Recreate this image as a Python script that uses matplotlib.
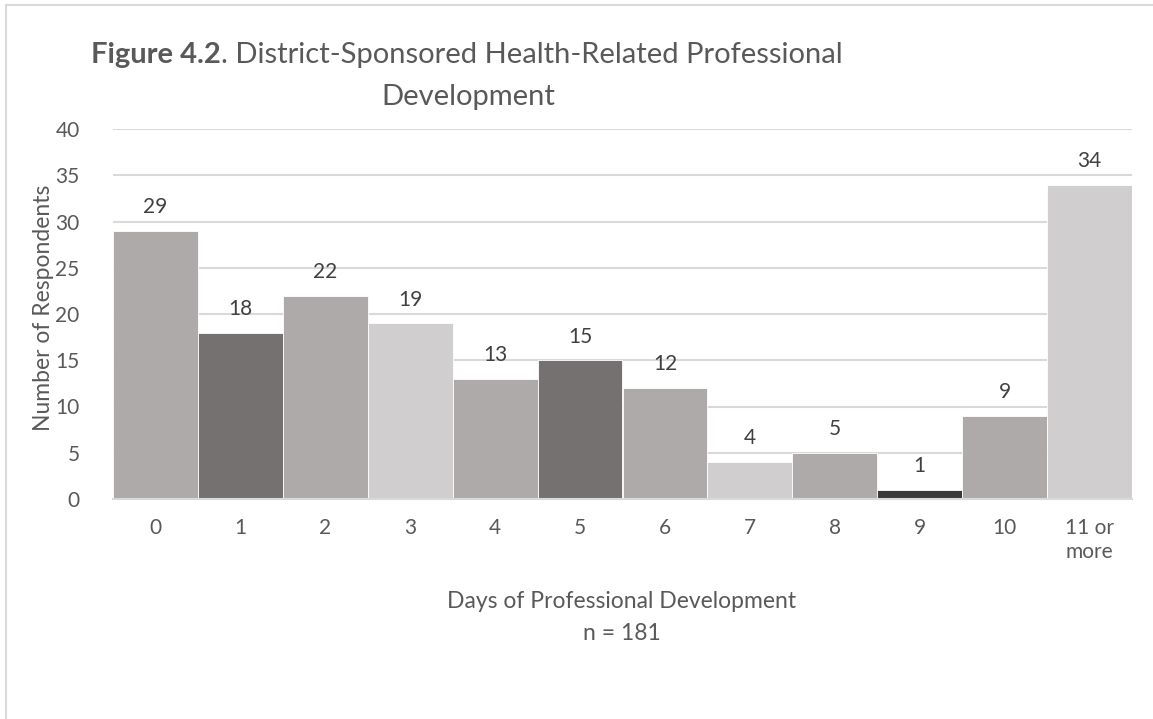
import matplotlib
matplotlib.use("Agg")
import matplotlib.pyplot as plt
from matplotlib.patches import Rectangle

categories = ["0", "1", "2", "3", "4", "5", "6", "7", "8", "9", "10", "11 or\nmore"]
values = [29, 18, 22, 19, 13, 15, 12, 4, 5, 1, 9, 34]
colors = ["#AEAAAA", "#767171", "#AEAAAA", "#D0CECE", "#AEAAAA", "#767171",
          "#AEAAAA", "#D0CECE", "#AEAAAA", "#3B3838", "#AEAAAA", "#D0CECE"]

plt.rcParams['font.family'] = ['Lato', 'DejaVu Sans']
txt = "#595959"

W, H = 1153, 719
fig = plt.figure(figsize=(W / 100, H / 100), dpi=100)
fig.patches.append(Rectangle((6 / W, -0.01), (1160 - 6) / W, 1.01 - 5 / H, transform=fig.transFigure,
                             fill=False, edgecolor="#D9D9D9", linewidth=1.5))

x0, x1, y0, y1 = 113, 1132, 129, 499
ax = fig.add_axes([x0 / W, 1 - y1 / H, (x1 - x0) / W, (y1 - y0) / H])
xs = range(len(values))
ax.bar(xs, values, width=1.0, color=colors, edgecolor="white", linewidth=0.6, zorder=2)
ax.set_xlim(-0.5, len(values) - 0.5)
ax.set_ylim(0, 40)
ax.set_yticks(range(0, 41, 5))
ax.yaxis.grid(True, color="#D9D9D9", linewidth=1.5, zorder=0)
ax.set_axisbelow(True)
for s in ["top", "right", "left"]:
    ax.spines[s].set_visible(False)
ax.spines["bottom"].set_color("#D9D9D9")
ax.spines["bottom"].set_linewidth(1.5)
ax.tick_params(axis="both", length=0, labelsize=15, colors=txt)
ax.tick_params(axis="x", pad=14)
ax.tick_params(axis="y", pad=24)
ax.set_xticks(list(xs))
ax.set_xticklabels(categories, linespacing=1.25, va="top")

for x, v in zip(xs, values):
    ax.annotate(str(v), (x, v), xytext=(0, 17), textcoords="offset points",
                ha="center", va="center", fontsize=15, color="#404040")

fig.text(44 / W, 1 - 308 / H, "Number of Respondents", rotation=90, ha="center", va="center",
         fontsize=16.5, color=txt)
fig.text(622 / W, 1 - 601 / H, "Days of Professional Development", ha="center", va="center",
         fontsize=16.5, color=txt)
fig.text(622 / W, 1 - 633 / H, "n = 181", ha="center", va="center", fontsize=16.5, color=txt)

# Title line 1 (bold part + regular part), centred at x=467
title_fs = 21
fig.canvas.draw()
r = fig.canvas.get_renderer()
ta = fig.text(0, 0, "Figure 4.2", fontsize=title_fs, fontweight="bold", color=txt)
tb = fig.text(0, 0, ". District-Sponsored Health-Related Professional", fontsize=title_fs, color=txt)
wa = ta.get_window_extent(r).width
wb = tb.get_window_extent(r).width
start = 467 - (wa + wb) / 2
ta.set_position((start / W, 1 - 55 / H)); ta.set_va("center")
tb.set_position(((start + wa) / W, 1 - 55 / H)); tb.set_va("center")
fig.text(468 / W, 1 - 97 / H, "Development", ha="center", va="center", fontsize=title_fs, color=txt)

fig.savefig("out.png", dpi=100, facecolor="white")
